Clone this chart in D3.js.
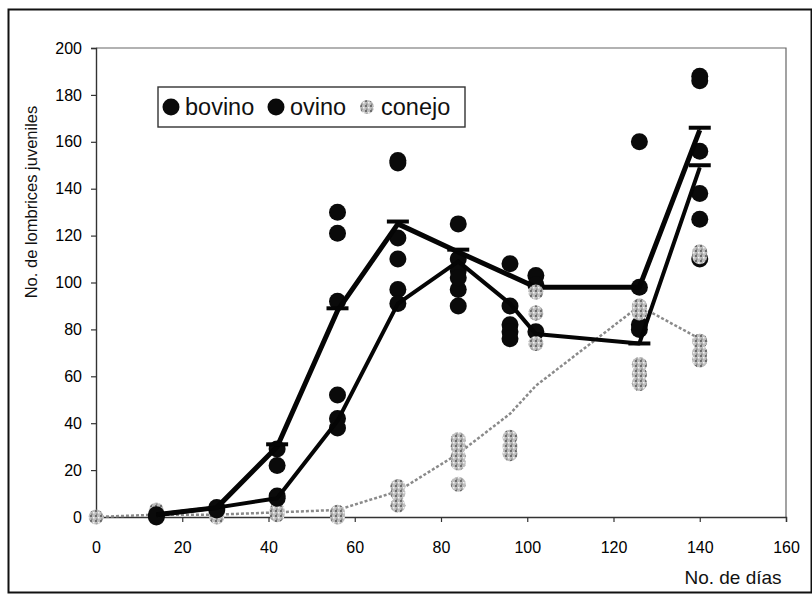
<!DOCTYPE html>
<html>
<head>
<meta charset="utf-8">
<script src="https://cdn.jsdelivr.net/npm/d3@7"></script>
<style>
  body { margin: 0; background: #fff; }
  svg { display: block; font-family: Arial, "Liberation Sans", sans-serif; }
</style>
</head>
<body>
<svg id="chart" width="812" height="595"></svg>
<script>
// ── Data ──────────────────────────────────────────────────────────────────
const xTicks = [0, 20, 40, 60, 80, 100, 120, 140, 160];
const yTicks = [0, 20, 40, 60, 80, 100, 120, 140, 160, 180, 200];

// mean lines
const bovinoDays  = [14, 28, 42, 56, 70, 84, 102, 126, 140];
const bovinoMean  = [1, 4, 30, 88, 125, 113, 98, 98, 165];
const bovinoErr   = [null, null, 1, 1, 1, 1, null, null, 1];

const ovinoDays   = [14, 28, 42, 56, 70, 84, 96, 102, 126, 140];
const ovinoMean   = [1, 4, 8, 41, 91, 109, 91, 78, 74, 149];
const ovinoErr    = [null, null, null, null, null, null, null, null, 0, 1];

const conejoDays  = [0, 14, 28, 42, 56, 70, 84, 96, 102, 126, 140];
const conejoMean  = [0, 1, 1, 2, 3, 11, 27, 44, 56, 90, 76];

// individual observations: [day, value]
const bovinoObs = [
  [14, 0], [28, 4], [42, 22], [42, 29],
  [56, 130], [56, 121], [56, 92],
  [70, 152], [70, 151], [70, 119], [70, 110],
  [84, 125], [84, 110], [84, 105],
  [96, 108], [102, 103], [102, 99],
  [126, 160], [126, 98],
  [140, 188], [140, 186], [140, 156]
];
const ovinoObs = [
  [14, 1], [28, 3], [42, 9], [42, 8],
  [56, 52], [56, 42], [56, 38],
  [70, 97], [70, 91],
  [84, 97], [84, 90], [84, 102],
  [96, 90], [96, 82], [96, 79], [96, 76],
  [102, 79], [126, 82], [126, 80],
  [140, 138], [140, 127], [140, 110]
];
const conejoObs = [
  [0, 0], [14, 3], [14, 1], [28, 0], [28, 1],
  [42, 1], [42, 2], [42, 3], [56, 2], [56, 1], [56, 0],
  [70, 13], [70, 10], [70, 5],
  [84, 33], [84, 30], [84, 26], [84, 23], [84, 14],
  [96, 34], [96, 30], [96, 27],
  [102, 96], [102, 87], [102, 74],
  [126, 90], [126, 87], [126, 65], [126, 61], [126, 57],
  [140, 113], [140, 111], [140, 75], [140, 70], [140, 67]
];

const legendItems = ['bovino', 'ovino', 'conejo'];

// ── Layout ────────────────────────────────────────────────────────────────
const svg = d3.select('#chart');
const plot = { left: 96, right: 786, top: 48, bottom: 517 };

const x = d3.scaleLinear().domain([0, 160]).range([plot.left, plot.right]);
const y = d3.scaleLinear().domain([0, 200]).range([plot.bottom, plot.top]);

// speckled pattern for conejo markers
const defs = svg.append('defs');
const pat = defs.append('pattern')
  .attr('id', 'speckle').attr('patternUnits', 'userSpaceOnUse')
  .attr('width', 5).attr('height', 5);
pat.append('rect').attr('width', 5).attr('height', 5).attr('fill', '#bdbdbd');
pat.append('rect').attr('x', 0).attr('y', 0).attr('width', 2).attr('height', 2).attr('fill', '#6e6e6e');
pat.append('rect').attr('x', 3).attr('y', 2).attr('width', 1.5).attr('height', 1.5).attr('fill', '#f2f2f2');
pat.append('rect').attr('x', 1).attr('y', 3.5).attr('width', 1.5).attr('height', 1.5).attr('fill', '#8c8c8c');

// outer frame
svg.append('rect')
  .attr('x', 8.5).attr('y', 9.5).attr('width', 803).attr('height', 583)
  .attr('fill', 'none').attr('stroke', '#111').attr('stroke-width', 2);

// plot frame (top/right)
svg.append('path')
  .attr('d', `M${plot.left},${plot.top}H${plot.right}V${plot.bottom}`)
  .attr('fill', 'none').attr('stroke', '#666').attr('stroke-width', 1.2);

// ── Axes ──────────────────────────────────────────────────────────────────
const xAxis = svg.append('g')
  .attr('transform', `translate(0,${plot.bottom})`)
  .call(d3.axisBottom(x).tickValues(xTicks).tickSize(5).tickPadding(25));
const yAxis = svg.append('g')
  .attr('transform', `translate(${plot.left},0)`)
  .call(d3.axisLeft(y).tickValues(yTicks).tickSize(5).tickPadding(9));

[xAxis, yAxis].forEach(a => {
  a.select('.domain').attr('stroke', '#333').attr('stroke-width', 1.4);
  a.selectAll('.tick line').attr('stroke', '#333').attr('stroke-width', 1.2);
  a.selectAll('.tick text')
    .attr('font-size', 16).attr('fill', '#000')
    .attr('font-family', 'Arial, "Liberation Sans", sans-serif');
});
xAxis.selectAll('.tick text').attr('dy', '0.35em');

svg.append('text')
  .attr('x', 733).attr('y', 584)
  .attr('text-anchor', 'middle')
  .attr('font-size', 19).attr('fill', '#111')
  .text('No. de días');

svg.append('text')
  .attr('transform', 'translate(37,202) rotate(-90)')
  .attr('text-anchor', 'middle')
  .attr('font-size', 16.5).attr('fill', '#111')
  .text('No. de lombrices juveniles');

// ── Lines ─────────────────────────────────────────────────────────────────
const line = d3.line().x(d => x(d[0])).y(d => y(d[1]));
const zip = (a, b) => a.map((v, i) => [v, b[i]]);

const g = svg.append('g');

// conejo dotted line
g.append('path')
  .datum(zip(conejoDays, conejoMean))
  .attr('d', line)
  .attr('fill', 'none').attr('stroke', '#8a8a8a')
  .attr('stroke-width', 2.5).attr('stroke-dasharray', '3,2');

// conejo markers
g.selectAll('.conejo')
  .data(conejoObs)
  .join('circle')
  .attr('class', 'conejo')
  .attr('cx', d => x(d[0])).attr('cy', d => y(d[1]))
  .attr('r', 7.5)
  .attr('fill', 'url(#speckle)');

// black observations
g.selectAll('.obs')
  .data(bovinoObs.concat(ovinoObs))
  .join('circle')
  .attr('class', 'obs')
  .attr('cx', d => x(d[0])).attr('cy', d => y(d[1]))
  .attr('r', 8.5)
  .attr('fill', '#0a0a0a');

function drawSeries(days, mean, err, width) {
  g.append('path')
    .datum(zip(days, mean))
    .attr('d', line)
    .attr('fill', 'none').attr('stroke', '#050505')
    .attr('stroke-width', width).attr('stroke-linejoin', 'round');

  // error bars: stem + cap
  const eb = g.append('g');
  days.forEach((dd, i) => {
    if (err[i] === null) return;
    const cx = x(dd), top = y(mean[i] + err[i]);
    eb.append('line')
      .attr('x1', cx).attr('x2', cx)
      .attr('y1', y(mean[i])).attr('y2', top)
      .attr('stroke', '#050505').attr('stroke-width', 2);
    eb.append('line')
      .attr('x1', cx - 11).attr('x2', cx + 11)
      .attr('y1', top).attr('y2', top)
      .attr('stroke', '#050505').attr('stroke-width', 4);
  });
}
drawSeries(ovinoDays, ovinoMean, ovinoErr, 4);
drawSeries(bovinoDays, bovinoMean, bovinoErr, 5);

// conejo markers that sit on top of black ones
g.selectAll('.conejoTop')
  .data(conejoObs.filter(d => d[0] >= 102))
  .join('circle')
  .attr('class', 'conejoTop')
  .attr('cx', d => x(d[0])).attr('cy', d => y(d[1]))
  .attr('r', 7.5)
  .attr('fill', 'url(#speckle)');

// ── Legend ────────────────────────────────────────────────────────────────
const lg = svg.append('g');
lg.append('rect')
  .attr('x', 158).attr('y', 87).attr('width', 307).attr('height', 40)
  .attr('fill', '#fff').attr('stroke', '#333').attr('stroke-width', 1.4);

const legendX = [171, 276, 367];
legendItems.forEach((name, i) => {
  lg.append('circle')
    .attr('cx', legendX[i]).attr('cy', 107)
    .attr('r', i === 2 ? 7 : 8.5)
    .attr('fill', i === 2 ? 'url(#speckle)' : '#0a0a0a');
  lg.append('text')
    .attr('x', legendX[i] + 14).attr('y', 115)
    .attr('font-size', 23.5).attr('fill', '#111')
    .text(name);
});
</script>
</body>
</html>
